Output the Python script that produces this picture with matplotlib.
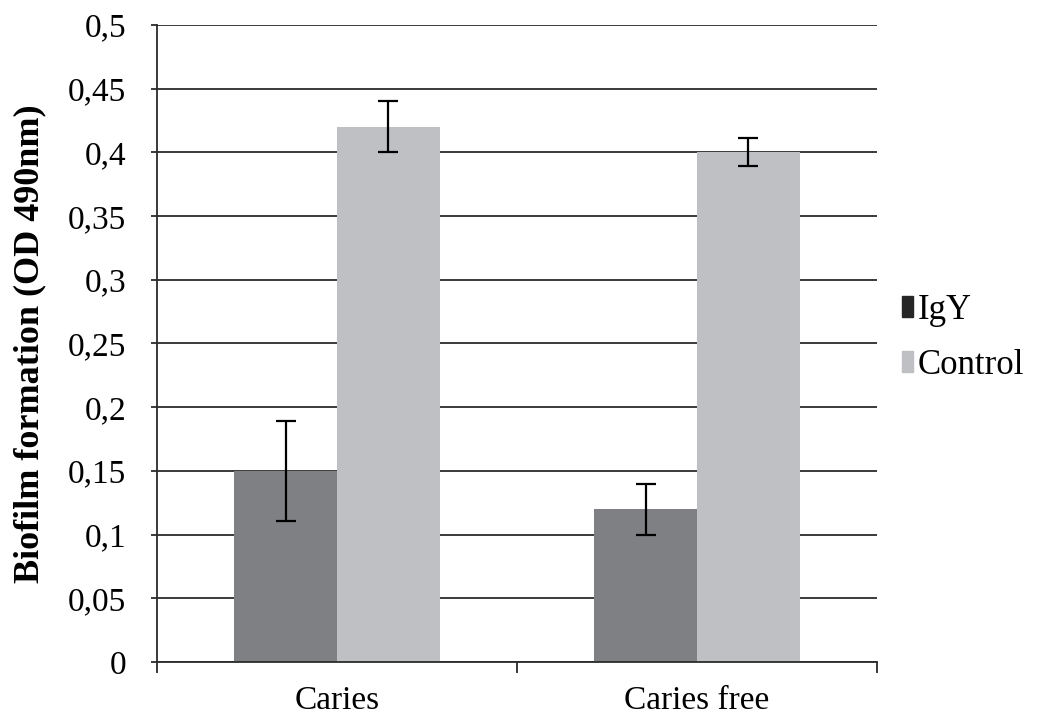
import matplotlib.pyplot as plt
from matplotlib.patches import Patch
from matplotlib.ticker import FuncFormatter
import numpy as np

# Biofilm formation (OD 490nm) by group
groups = ["Caries", "Caries free"]
igy_values = [0.15, 0.12]
igy_err = [0.039, 0.02]
control_values = [0.42, 0.40]
control_err = [0.02, 0.011]

IGY_COLOR = "#7f8084"
CONTROL_COLOR = "#bec0c4"
LINE_COLOR = "#2b2b2b"

plt.rcParams["font.family"] = "serif"
plt.rcParams["font.serif"] = ["Liberation Serif", "DejaVu Serif"]

fig = plt.figure(figsize=(10.38, 7.22), dpi=100)
ax = fig.add_axes([0.1513, 0.0831, 0.6936, 0.8823])

x = np.arange(len(groups))
width = 0.285
err_kw = dict(ecolor="black", elinewidth=1.6, capsize=7, capthick=1.6)
ax.bar(x - width / 2, igy_values, width, color=IGY_COLOR, yerr=igy_err,
       error_kw=err_kw, zorder=3)
ax.bar(x + width / 2, control_values, width, color=CONTROL_COLOR, yerr=control_err,
       error_kw=err_kw, zorder=3)

ax.set_ylim(0, 0.5)
ax.set_xlim(-0.5, len(groups) - 0.5)
ax.set_yticks(np.arange(0, 0.501, 0.05))
ax.yaxis.set_major_formatter(FuncFormatter(
    lambda v, pos: ("%.2f" % v).rstrip("0").rstrip(".").replace(".", ",")))
ax.grid(axis="y", color=LINE_COLOR, linewidth=1.3, zorder=0)

# category boundary ticks below the axis, labels centred under each group
ax.set_xticks(np.arange(-0.5, len(groups), 1.0))
ax.set_xticklabels([])
ax.set_xticks(x, minor=True)
ax.set_xticklabels(groups, minor=True)
ax.tick_params(axis="x", which="major", length=8, width=1.3, color=LINE_COLOR)
ax.tick_params(axis="x", which="minor", length=0, pad=17, labelsize=24)
ax.tick_params(axis="y", length=4, width=1.3, color=LINE_COLOR, labelsize=24, pad=18)

for side in ["top", "right"]:
    ax.spines[side].set_visible(False)
for side in ["left", "bottom"]:
    ax.spines[side].set_color(LINE_COLOR)
    ax.spines[side].set_linewidth(1.3)
    ax.spines[side].set_zorder(4)

ax.set_ylabel("Biofilm formation (OD 490nm)", fontsize=26, fontweight="bold", labelpad=16)

handles = [Patch(color="#262626"), Patch(color=CONTROL_COLOR)]
ax.legend(handles, ["IgY", "Control"], loc="center left", bbox_to_anchor=(1.035, 0.509),
          borderaxespad=0, borderpad=0, frameon=False, fontsize=25,
          handlelength=0.3, handleheight=0.55, handletextpad=0.15, labelspacing=0.64)

fig.savefig("out.png", dpi=100)
